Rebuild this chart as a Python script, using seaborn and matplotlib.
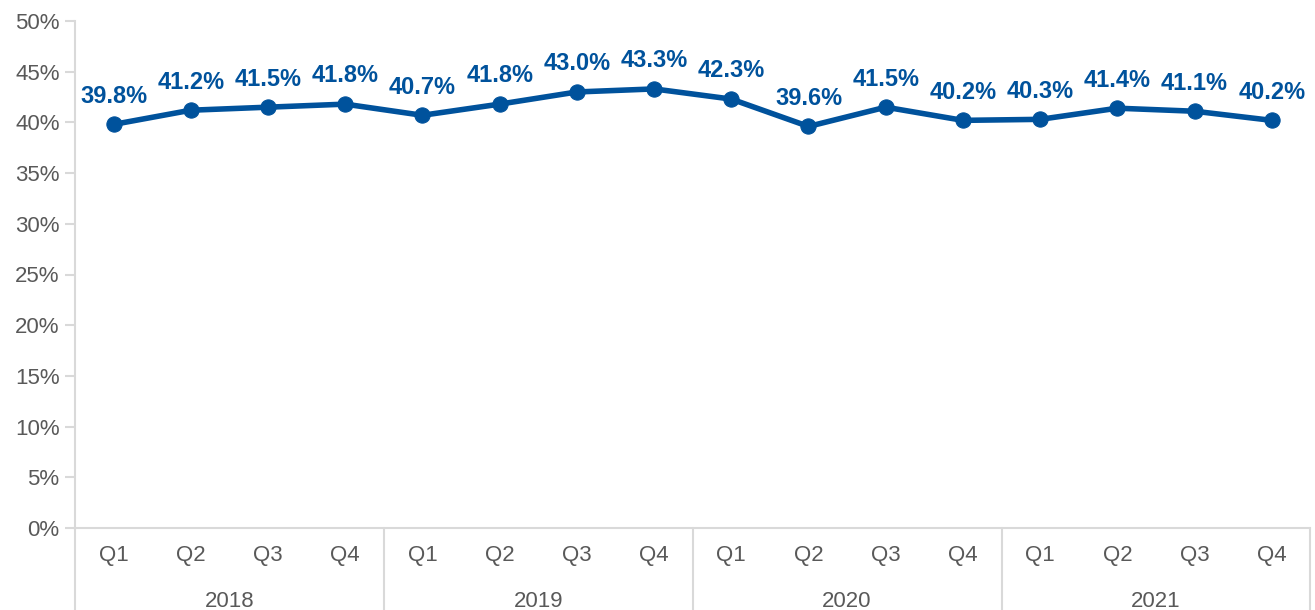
import numpy as np
import matplotlib.pyplot as plt
import seaborn as sns
import pandas as pd

years = ['2018', '2019', '2020', '2021']
quarters = ['Q1', 'Q2', 'Q3', 'Q4']
rate = [39.8, 41.2, 41.5, 41.8,
        40.7, 41.8, 43.0, 43.3,
        42.3, 39.6, 41.5, 40.2,
        40.3, 41.4, 41.1, 40.2]
yticks = [0, 5, 10, 15, 20, 25, 30, 35, 40, 45, 50]

blue = '#00529C'
grey = '#D9D9D9'
txt = '#595959'

df = pd.DataFrame({'pos': np.arange(len(rate)), 'rate': rate})

sns.set_style('white')
plt.rcParams['font.family'] = ['Liberation Sans', 'DejaVu Sans']

fig = plt.figure(figsize=(13.15, 6.1), dpi=100)
ax = fig.add_axes([0.057, 0.1344, 0.9395, 0.8312])

sns.lineplot(data=df, x='pos', y='rate', ax=ax, color=blue, linewidth=4,
             marker='o', markersize=11, markeredgecolor=blue)

for x, y in zip(df.pos, df.rate):
    ax.annotate('%.1f%%' % y, (x, y), xytext=(0, 12), textcoords='offset points',
                ha='center', va='bottom', fontsize=17, fontweight='bold', color=blue)

ax.set_xlim(-0.5, len(rate) - 0.5)
ax.set_ylim(0, 50)
ax.set_yticks(yticks)
ax.set_yticklabels(['%d%%' % t for t in yticks], fontsize=16, color=txt)
ax.set_xticks([])
ax.set_xlabel('')
ax.set_ylabel('')

for s in ['top', 'right']:
    ax.spines[s].set_visible(False)
ax.spines['left'].set_color(grey)
ax.spines['bottom'].set_color(grey)
ax.spines['left'].set_linewidth(1.5)
ax.spines['bottom'].set_linewidth(1.5)
ax.tick_params(axis='y', length=7, width=1.5, color=grey, pad=4, left=True)

# two-level category axis
trans = ax.get_xaxis_transform()
for i, q in enumerate(quarters * len(years)):
    ax.text(i, -0.055, q, transform=trans, ha='center', va='center',
            fontsize=16, color=txt)
for j, yr in enumerate(years):
    ax.text(j * 4 + 1.5, -0.145, yr, transform=trans, ha='center', va='center',
            fontsize=16, color=txt)
for k in range(len(years) + 1):
    ax.plot([k * 4 - 0.5, k * 4 - 0.5], [0, -0.17], transform=trans,
            color=grey, linewidth=1.5, clip_on=False)

fig.savefig('out.png', dpi=100)
